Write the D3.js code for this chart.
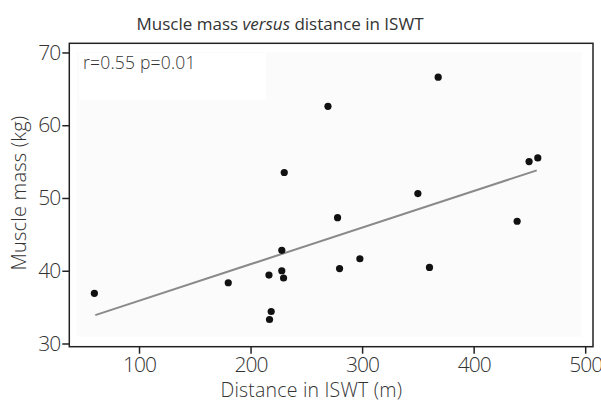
<!DOCTYPE html>
<html><head><meta charset="utf-8">
<script src="https://cdn.jsdelivr.net/npm/d3@7"></script>
<style>
body{margin:0;background:#fff;}
svg{display:block;}
text{font-family:"Open Sans","Lato",sans-serif;fill:#333;}
</style></head>
<body>
<svg id="c" width="601" height="403"></svg>
<script>
const distance = [60, 180, 216.5, 218.5, 217, 228, 228, 229.6, 230.2, 269.4, 278, 279.8, 298, 350, 360.4, 368.2, 439, 449.7, 457.5];
const muscle   = [36.9, 38.35, 39.4, 34.4, 33.3, 42.8, 40.0, 39.0, 53.5, 62.6, 47.3, 40.3, 41.65, 50.6, 40.45, 66.6, 46.8, 55.0, 55.5];
const fitX = [60.8, 456.6];
const fitY = [33.9, 53.8];
const xTicks = [100, 200, 300, 400, 500];
const yTicks = [30, 40, 50, 60, 70];
const title = ["Muscle mass ", "versus", " distance in ISWT"];
const xLabel = "Distance in ISWT (m)";
const yLabel = "Muscle mass (kg)";
const annotation = "r=0.55 p=0.01";

const FONT = '"Open Sans","Lato",sans-serif';
const svg = d3.select("#c");
const L = 69.3, R = 593, T = 43.3, B = 346.7;
const x = d3.scaleLinear().domain([37.5, 507]).range([L, R]);
const y = d3.scaleLinear().domain([29.56, 71.26]).range([B, T]);

// inner light background
svg.append("rect").attr("x", 76.7).attr("y", 52).attr("width", 581.7-76.7).attr("height", 336.7-52).attr("fill", "#fbfbfb");
// annotation box
svg.append("rect").attr("x", 79.3).attr("y", 53.3).attr("width", 266-79.3).attr("height", 100-53.3).attr("fill", "#ffffff");
svg.append("text").attr("x", 83).attr("y", 68.5).attr("font-size", 17.5).attr("font-weight", 300).attr("fill", "#333")
  .attr("letter-spacing", 0.2).text(annotation);

// frame
svg.append("rect").attr("x", L).attr("y", T).attr("width", R-L).attr("height", B-T).attr("fill", "none").attr("stroke", "#222").attr("stroke-width", 1.5);

// axes
const xAxis = svg.append("g").attr("transform", `translate(0,${B})`)
  .call(d3.axisBottom(x).tickValues(xTicks).tickSize(7).tickPadding(3).tickFormat(d3.format("d")));
const yAxis = svg.append("g").attr("transform", `translate(${L},0)`)
  .call(d3.axisLeft(y).tickValues(yTicks).tickSize(7).tickPadding(2).tickFormat(d3.format("d")));
[xAxis, yAxis].forEach(g => {
  g.select(".domain").remove();
  g.selectAll(".tick line").attr("stroke", "#222").attr("stroke-width", 1.5);
  g.selectAll(".tick text").attr("font-size", 21).attr("font-weight", 300).attr("fill", "#333")
    .attr("letter-spacing", -1).style("font-family", FONT);
});

// fit line
svg.append("line").attr("x1", x(fitX[0])).attr("y1", y(fitY[0])).attr("x2", x(fitX[1])).attr("y2", y(fitY[1]))
  .attr("stroke", "#8a8a8a").attr("stroke-width", 2);

// points
svg.append("g").selectAll("circle").data(distance.map((d, i) => [d, muscle[i]])).join("circle")
  .attr("cx", d => x(d[0])).attr("cy", d => y(d[1])).attr("r", 3.6).attr("fill", "#111");

// title
const t = svg.append("text").attr("x", 280).attr("y", 30).attr("text-anchor", "middle").attr("font-size", 17).attr("font-weight", 400).attr("fill", "#222");
t.append("tspan").text(title[0]);
t.append("tspan").attr("font-style", "italic").text(title[1]);
t.append("tspan").text(title[2]);

// axis labels
svg.append("text").attr("x", 311.3).attr("y", 396.5).attr("text-anchor", "middle").attr("font-size", 19.5).attr("font-weight", 300)
  .attr("letter-spacing", 0.2).text(xLabel);
svg.append("text").attr("transform", "translate(26,193) rotate(-90)").attr("text-anchor", "middle").attr("font-size", 20).attr("font-weight", 300)
  .attr("letter-spacing", 0.2).text(yLabel);
</script>
</body></html>
